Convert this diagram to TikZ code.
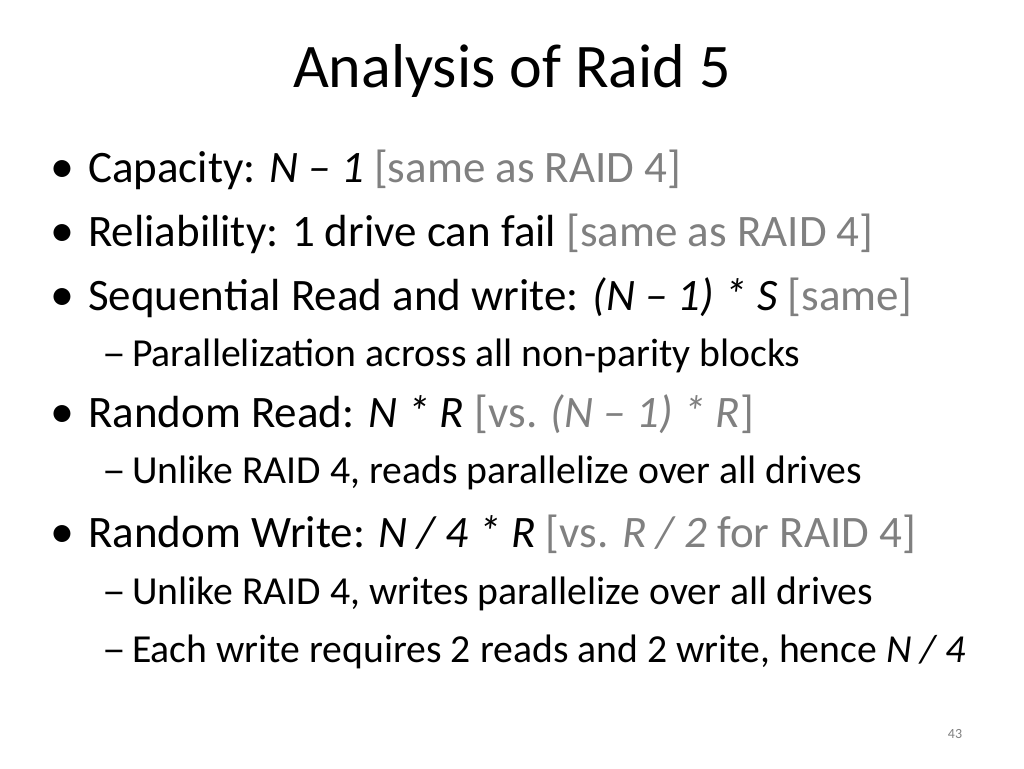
\documentclass[tikz,border=0pt]{standalone}
\usepackage{fontspec}
\setmainfont{Carlito}
\definecolor{gr}{RGB}{128,128,128}
\begin{document}
\begin{tikzpicture}[x=1pt,y=1pt,
  bl/.style={anchor=base west,inner sep=0pt,font=\fontsize{45}{50}\selectfont},
  sb/.style={anchor=base west,inner sep=0pt,font=\fontsize{39.7}{44}\selectfont},
  dot/.style={anchor=base west,inner sep=0pt,font=\fontsize{48}{52}\selectfont}]
\useasboundingbox[fill=white] (0,0) rectangle (1024,768);
\node[anchor=base,inner sep=0pt,font=\fontsize{62}{70}\selectfont] (t) at (512,680) {Analysis of Raid 5};
\foreach \y/\n in {585/b1,521/b2,457/b3,340/b4,220/b5}{\node[dot] (d\n) at (50,\y) {\textbullet};}
\foreach \y/\n in {401/s1,284/s2,163/s3,106/s4}{\node[sb,xscale=1.2] (h\n) at (102,\y) {–};}
\node[bl] (b1) at (88,585) {Capacity: \textit{N – 1} \textcolor{gr}{[same as RAID 4]}};
\node[bl] (b2) at (88,521) {Reliability: 1 drive can fail \textcolor{gr}{[same as RAID 4]}};
\node[bl] (b3) at (88,457) {Sequential Read and write: \textit{(N – 1) * S} \textcolor{gr}{[same]}};
\node[sb] (s1) at (132,401) {Parallelization across all non-parity blocks};
\node[bl] (b4) at (88,340) {Random Read: \textit{N * R} \textcolor{gr}{[vs. \textit{(N – 1) * R}]}};
\node[sb] (s2) at (132,284) {Unlike RAID 4, reads parallelize over all drives};
\node[bl] (b5) at (88,220) {Random Write: \textit{N / 4 * R} \textcolor{gr}{[vs. \textit{R / 2} for RAID 4]}};
\node[sb] (s3) at (132,163) {Unlike RAID 4, writes parallelize over all drives};
\node[sb] (s4) at (132,106) {Each write requires 2 reads and 2 write, hence \textit{N / 4}};
\node[anchor=base,inner sep=0pt,font=\fontsize{14}{16}\selectfont,text=gr] (pg) at (955,30) {43};
\end{tikzpicture}
\end{document}
